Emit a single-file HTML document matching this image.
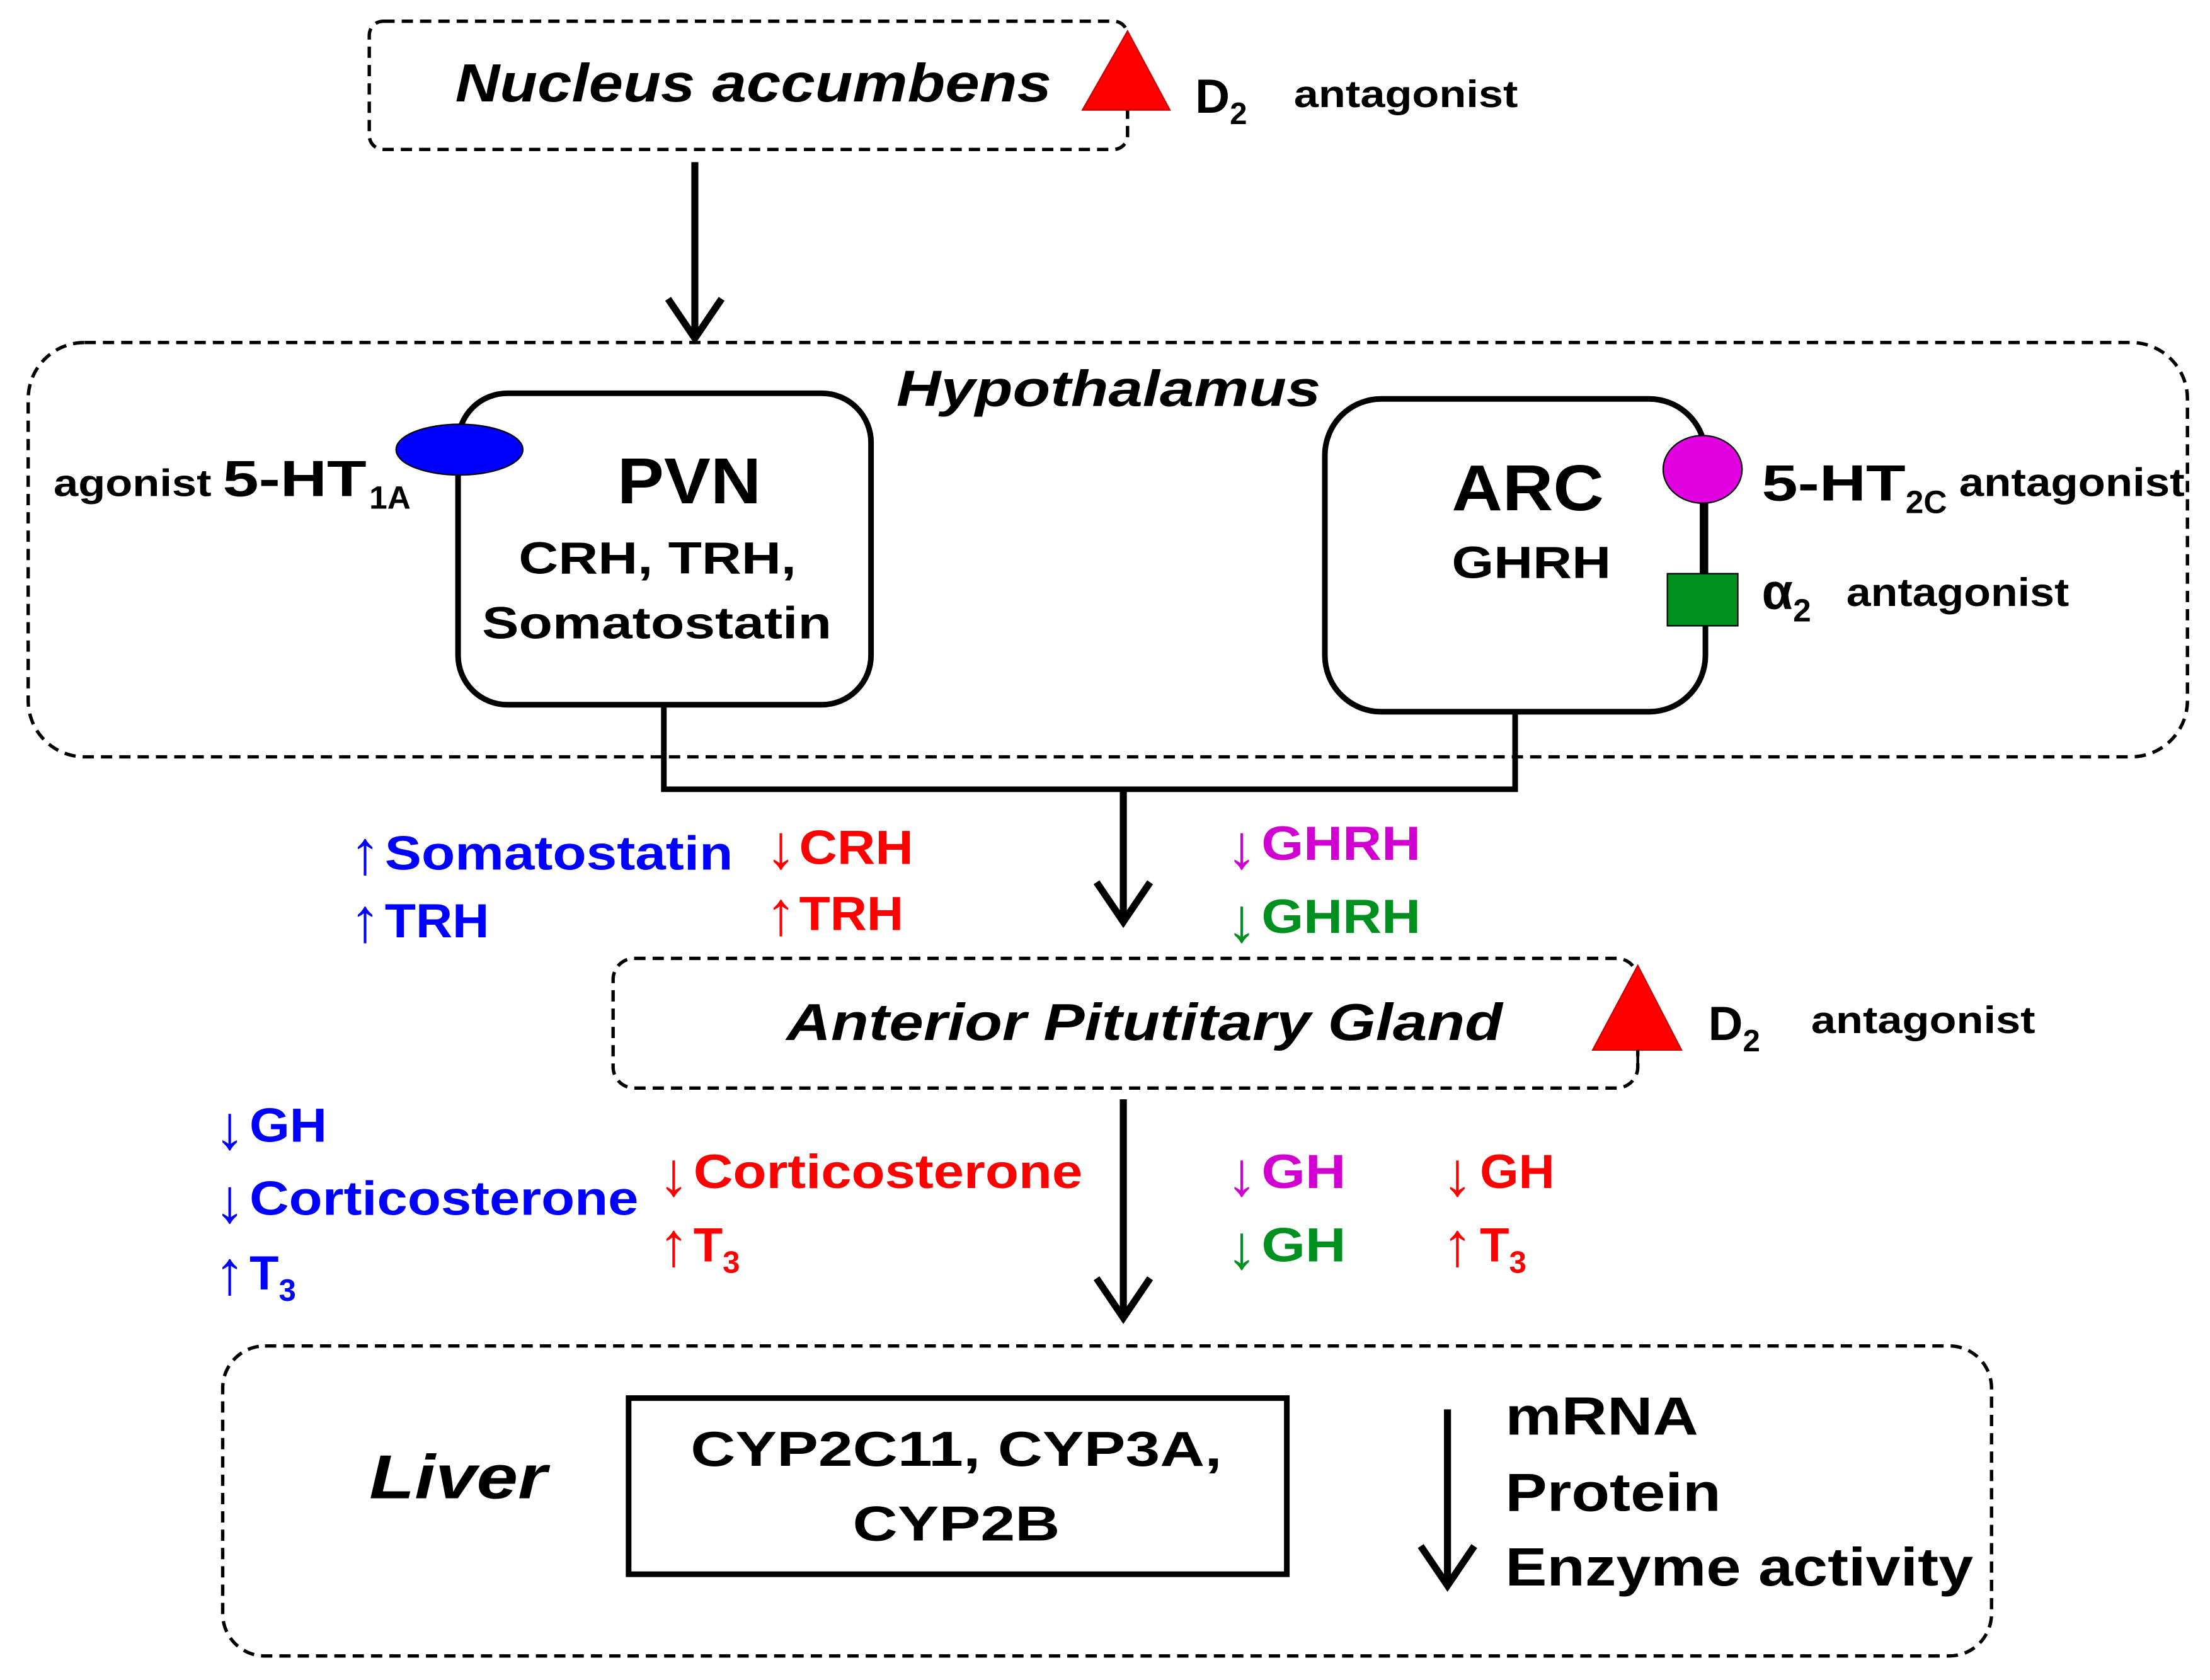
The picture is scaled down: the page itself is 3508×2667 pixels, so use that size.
<!DOCTYPE html>
<html><head><meta charset="utf-8"><style>
html,body{margin:0;padding:0;background:#fff}
svg{display:block}
text{font-family:"Liberation Sans",Arial,sans-serif;font-weight:bold}
.ar{font-weight:normal;font-size:44px}
</style></head><body>
<svg width="3508" height="2667" viewBox="0 0 1568 1192" xmlns="http://www.w3.org/2000/svg">
<g fill="none" stroke="#000" stroke-width="2.4" stroke-dasharray="8,5">
<rect x="262" y="15" width="538" height="91" rx="10"/>
<rect x="20" y="243" width="1532" height="294" rx="40"/>
<rect x="435" y="680" width="727" height="92" rx="15"/>
<rect x="158" y="955" width="1255" height="220" rx="30"/>
</g>
<g fill="none" stroke="#000" stroke-width="4">
<rect x="325" y="279" width="293" height="221" rx="35"/>
<rect x="940" y="283" width="270" height="222" rx="40"/>
<polyline points="471,500 471,560 1075,560 1075,505"/>
<rect x="446" y="992" width="467" height="125"/>
<line x1="1208" y1="355" x2="1208" y2="410"/>
</g>
<g fill="none" stroke="#000" stroke-width="5">
<line x1="493" y1="115" x2="493" y2="238"/><polyline points="474,212 493,240 512,212"/>
<line x1="797" y1="560" x2="797" y2="652"/><polyline points="778,626 797,654 816,626"/>
<line x1="797" y1="780" x2="797" y2="934"/><polyline points="778,907 797,935 816,907"/>
<line x1="1027" y1="1000" x2="1027" y2="1124"/><polyline points="1008,1097 1027,1125 1046,1097"/>
</g>
<polygon points="768,78 800,22 830,78" fill="#f00" stroke="#c00"/>
<polygon points="1130,745 1162,685 1193,745" fill="#f00" stroke="#c00"/>
<line x1="1162" y1="745" x2="1162" y2="757" stroke="#000" stroke-width="2"/>
<ellipse cx="326" cy="319" rx="45" ry="18" fill="#00f" stroke="#000"/>
<ellipse cx="1208" cy="333" rx="28" ry="24" fill="#e000e0" stroke="#000"/>
<rect x="1183" y="407" width="50" height="37" fill="#009020" stroke="#000"/>

<text x="323" y="72" font-size="38" font-style="italic" textLength="423" lengthAdjust="spacingAndGlyphs">Nucleus accumbens</text>
<text x="848" y="80" font-size="34">D<tspan font-size="22" dy="8">2</tspan></text>
<text x="918" y="76" font-size="27" textLength="159" lengthAdjust="spacingAndGlyphs">antagonist</text>
<text x="636" y="288" font-size="36" font-style="italic" textLength="301" lengthAdjust="spacingAndGlyphs">Hypothalamus</text>
<text x="438" y="357" font-size="46" textLength="102" lengthAdjust="spacingAndGlyphs">PVN</text>
<text x="368" y="407" font-size="32" textLength="197" lengthAdjust="spacingAndGlyphs">CRH, TRH,</text>
<text x="342" y="453" font-size="32" textLength="248" lengthAdjust="spacingAndGlyphs">Somatostatin</text>
<text x="38" y="352" font-size="27" textLength="112" lengthAdjust="spacingAndGlyphs">agonist</text>
<text x="158" y="352" font-size="36" textLength="102" lengthAdjust="spacingAndGlyphs">5-HT</text>
<text x="262" y="361" font-size="23">1A</text>
<text x="1030" y="362" font-size="46" textLength="108" lengthAdjust="spacingAndGlyphs">ARC</text>
<text x="1030" y="410" font-size="32" textLength="113" lengthAdjust="spacingAndGlyphs">GHRH</text>
<text x="1250" y="355" font-size="36" textLength="102" lengthAdjust="spacingAndGlyphs">5-HT</text>
<text x="1352" y="364" font-size="23">2C</text>
<text x="1390" y="352" font-size="28" textLength="160" lengthAdjust="spacingAndGlyphs">antagonist</text>
<text x="1250" y="432" font-size="36">α<tspan font-size="23" dy="9">2</tspan></text>
<text x="1310" y="430" font-size="28" textLength="158" lengthAdjust="spacingAndGlyphs">antagonist</text>

<g font-size="34">
<text x="248" y="620" fill="#00f" class="ar">↑</text><text x="273" y="617" fill="#00f" textLength="247" lengthAdjust="spacingAndGlyphs">Somatostatin</text>
<text x="248" y="668" fill="#00f" class="ar">↑</text><text x="273" y="665" fill="#00f" textLength="74" lengthAdjust="spacingAndGlyphs">TRH</text>
<text x="543" y="616" fill="#f00" class="ar">↓</text><text x="567" y="613" fill="#f00" textLength="81" lengthAdjust="spacingAndGlyphs">CRH</text>
<text x="543" y="663" fill="#f00" class="ar">↑</text><text x="567" y="660" fill="#f00" textLength="74" lengthAdjust="spacingAndGlyphs">TRH</text>
<text x="870" y="616" fill="#d000d0" class="ar">↓</text><text x="895" y="610" fill="#d000d0" textLength="113" lengthAdjust="spacingAndGlyphs">GHRH</text>
<text x="870" y="668" fill="#009020" class="ar">↓</text><text x="895" y="662" fill="#009020" textLength="113" lengthAdjust="spacingAndGlyphs">GHRH</text>
<text x="152" y="815" fill="#00f" class="ar">↓</text><text x="177" y="810" fill="#00f" textLength="55" lengthAdjust="spacingAndGlyphs">GH</text>
<text x="152" y="867" fill="#00f" class="ar">↓</text><text x="177" y="862" fill="#00f" textLength="276" lengthAdjust="spacingAndGlyphs">Corticosterone</text>
<text x="152" y="918" fill="#00f" class="ar">↑</text><text x="177" y="915" fill="#00f">T<tspan font-size="22" dy="8">3</tspan></text>
<text x="467" y="848" fill="#f00" class="ar">↓</text><text x="492" y="843" fill="#f00" textLength="276" lengthAdjust="spacingAndGlyphs">Corticosterone</text>
<text x="467" y="898" fill="#f00" class="ar">↑</text><text x="492" y="895" fill="#f00">T<tspan font-size="22" dy="8">3</tspan></text>
<text x="870" y="848" fill="#d000d0" class="ar">↓</text><text x="895" y="843" fill="#d000d0" textLength="60" lengthAdjust="spacingAndGlyphs">GH</text>
<text x="870" y="900" fill="#009020" class="ar">↓</text><text x="895" y="895" fill="#009020" textLength="60" lengthAdjust="spacingAndGlyphs">GH</text>
<text x="1023" y="848" fill="#f00" class="ar">↓</text><text x="1050" y="843" fill="#f00" textLength="53" lengthAdjust="spacingAndGlyphs">GH</text>
<text x="1023" y="898" fill="#f00" class="ar">↑</text><text x="1050" y="895" fill="#f00">T<tspan font-size="22" dy="8">3</tspan></text>
</g>

<text x="558" y="738" font-size="37" font-style="italic" textLength="508" lengthAdjust="spacingAndGlyphs">Anterior Pitutitary Gland</text>
<text x="1212" y="738" font-size="34">D<tspan font-size="22" dy="8">2</tspan></text>
<text x="1285" y="733" font-size="27" textLength="159" lengthAdjust="spacingAndGlyphs">antagonist</text>

<text x="262" y="1063" font-size="44" font-style="italic" textLength="126" lengthAdjust="spacingAndGlyphs">Liver</text>
<text x="490" y="1040" font-size="35" textLength="377" lengthAdjust="spacingAndGlyphs">CYP2C11, CYP3A,</text>
<text x="605" y="1093" font-size="35" textLength="147" lengthAdjust="spacingAndGlyphs">CYP2B</text>
<text x="1068" y="1018" font-size="38" textLength="137" lengthAdjust="spacingAndGlyphs">mRNA</text>
<text x="1068" y="1072" font-size="38" textLength="153" lengthAdjust="spacingAndGlyphs">Protein</text>
<text x="1068" y="1125" font-size="38" textLength="332" lengthAdjust="spacingAndGlyphs">Enzyme activity</text>
</svg>
</body></html>
